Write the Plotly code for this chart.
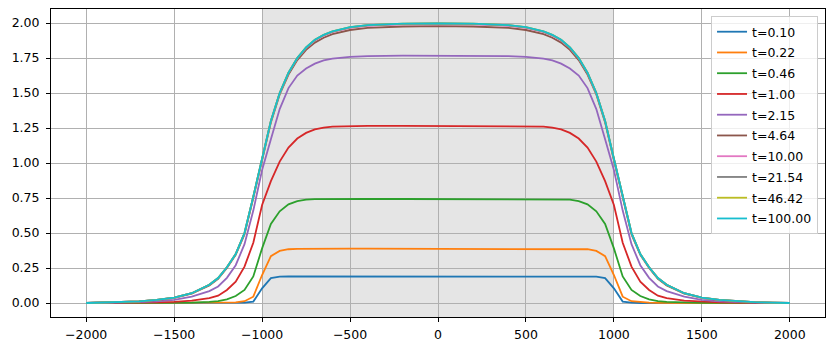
import plotly.graph_objects as go

x_vals = [-2000, -1900, -1800, -1700, -1600, -1500, -1400, -1300, -1250, -1200, -1150, -1100, -1050,
          -1000, -950, -900, -850, -800, -750, -700, -650, -600, -500, -400, -200, 0,
          200, 400, 500, 600, 650, 700, 750, 800, 850, 900, 950, 1000, 1050, 1100, 1150, 1200,
          1250, 1300, 1400, 1500, 1600, 1700, 1800, 1900, 2000]

t_labels = ["t=0.10", "t=0.22", "t=0.46", "t=1.00", "t=2.15", "t=4.64", "t=10.00", "t=21.54", "t=46.42", "t=100.00"]
colors = ["#1f77b4", "#ff7f0e", "#2ca02c", "#d62728", "#9467bd", "#8c564b", "#e377c2", "#7f7f7f", "#bcbd22", "#17becf"]

y_t010 = [0, 0, 0, 0, 0, 0, 0, 0, 0, 0, 0, 0.002, 0.01, 0.105, 0.178, 0.188, 0.19, 0.19, 0.19, 0.19, 0.19, 0.19, 0.19, 0.19, 0.19, 0.19,
          0.19, 0.19, 0.19, 0.19, 0.19, 0.19, 0.19, 0.19, 0.19, 0.188, 0.178, 0.105, 0.01, 0.002, 0, 0, 0, 0, 0, 0, 0, 0, 0, 0, 0]
y_t022 = [0, 0, 0, 0, 0, 0, 0, 0, 0.001, 0.002, 0.005, 0.013, 0.045, 0.2, 0.335, 0.372, 0.384, 0.387, 0.388, 0.388, 0.388, 0.388, 0.388, 0.388, 0.388, 0.388,
          0.388, 0.388, 0.388, 0.388, 0.388, 0.388, 0.388, 0.387, 0.384, 0.372, 0.335, 0.2, 0.045, 0.013, 0.005, 0.002, 0.001, 0, 0, 0, 0, 0, 0, 0, 0]
y_t046 = [0, 0, 0, 0, 0.0005, 0.001, 0.003, 0.008, 0.014, 0.026, 0.05, 0.093, 0.19, 0.39, 0.565, 0.655, 0.705, 0.728, 0.738, 0.742, 0.743, 0.743, 0.743, 0.743, 0.743, 0.743,
          0.743, 0.743, 0.743, 0.743, 0.743, 0.742, 0.738, 0.728, 0.705, 0.655, 0.565, 0.39, 0.19, 0.093, 0.05, 0.026, 0.014, 0.008, 0.003, 0.001, 0.0005, 0, 0, 0, 0]
y_t100 = [0, 0, 0.001, 0.002, 0.004, 0.008, 0.017, 0.035, 0.052, 0.093, 0.152, 0.26, 0.43, 0.70, 0.87, 1.01, 1.11, 1.175, 1.215, 1.24, 1.253, 1.26, 1.264, 1.265, 1.265, 1.265,
          1.265, 1.265, 1.264, 1.26, 1.253, 1.24, 1.215, 1.175, 1.11, 1.01, 0.87, 0.70, 0.43, 0.26, 0.152, 0.093, 0.052, 0.035, 0.017, 0.008, 0.004, 0.002, 0.001, 0, 0]
y_t215 = [0, 0.001, 0.003, 0.006, 0.012, 0.022, 0.045, 0.085, 0.118, 0.18, 0.27, 0.42, 0.66, 0.95, 1.17, 1.385, 1.535, 1.625, 1.675, 1.71, 1.733, 1.745, 1.758, 1.764, 1.767, 1.767,
          1.767, 1.764, 1.758, 1.745, 1.733, 1.71, 1.675, 1.625, 1.535, 1.385, 1.17, 0.95, 0.66, 0.42, 0.27, 0.18, 0.118, 0.085, 0.045, 0.022, 0.012, 0.006, 0.003, 0.001, 0]
y_t464 = [0, 0.002, 0.005, 0.011, 0.021, 0.036, 0.067, 0.126, 0.173, 0.25, 0.345, 0.49, 0.75, 1.02, 1.29, 1.49, 1.632, 1.735, 1.808, 1.86, 1.895, 1.92, 1.95, 1.965, 1.975, 1.978,
          1.975, 1.965, 1.95, 1.92, 1.895, 1.86, 1.808, 1.735, 1.632, 1.49, 1.29, 1.02, 0.75, 0.49, 0.345, 0.25, 0.173, 0.126, 0.067, 0.036, 0.021, 0.011, 0.005, 0.002, 0]
y_t1000 = [0, 0.003, 0.006, 0.012, 0.022, 0.038, 0.07, 0.13, 0.177, 0.254, 0.349, 0.498, 0.758, 1.028, 1.298, 1.498, 1.642, 1.747, 1.821, 1.875, 1.91, 1.935, 1.965, 1.98, 1.99, 1.993,
           1.99, 1.98, 1.965, 1.935, 1.91, 1.875, 1.821, 1.747, 1.642, 1.498, 1.298, 1.028, 0.758, 0.498, 0.349, 0.254, 0.177, 0.13, 0.07, 0.038, 0.022, 0.012, 0.006, 0.003, 0]
y_t2154 = [0, 0.003, 0.006, 0.012, 0.022, 0.038, 0.07, 0.13, 0.178, 0.255, 0.35, 0.5, 0.76, 1.03, 1.3, 1.5, 1.644, 1.749, 1.824, 1.879, 1.914, 1.939, 1.969, 1.984, 1.994, 1.997,
           1.994, 1.984, 1.969, 1.939, 1.914, 1.879, 1.824, 1.749, 1.644, 1.5, 1.3, 1.03, 0.76, 0.5, 0.35, 0.255, 0.178, 0.13, 0.07, 0.038, 0.022, 0.012, 0.006, 0.003, 0]
y_t4642 = [0, 0.003, 0.006, 0.012, 0.022, 0.038, 0.07, 0.13, 0.178, 0.255, 0.35, 0.5, 0.76, 1.03, 1.3, 1.5, 1.645, 1.75, 1.825, 1.88, 1.915, 1.94, 1.97, 1.985, 1.995, 1.998,
           1.995, 1.985, 1.97, 1.94, 1.915, 1.88, 1.825, 1.75, 1.645, 1.5, 1.3, 1.03, 0.76, 0.5, 0.35, 0.255, 0.178, 0.13, 0.07, 0.038, 0.022, 0.012, 0.006, 0.003, 0]
y_t10000 = [0, 0.003, 0.006, 0.012, 0.022, 0.038, 0.07, 0.13, 0.178, 0.255, 0.35, 0.5, 0.76, 1.03, 1.30, 1.50, 1.645, 1.75, 1.825, 1.88, 1.915, 1.94, 1.97, 1.985, 1.995, 1.998,
            1.995, 1.985, 1.97, 1.94, 1.915, 1.88, 1.825, 1.75, 1.645, 1.50, 1.30, 1.03, 0.76, 0.5, 0.35, 0.255, 0.178, 0.13, 0.07, 0.038, 0.022, 0.012, 0.006, 0.003, 0]

series = [y_t010, y_t022, y_t046, y_t100, y_t215, y_t464, y_t1000, y_t2154, y_t4642, y_t10000]
for s in series:
    assert len(s) == len(x_vals), len(s)

x_ticks = [-2000, -1500, -1000, -500, 0, 500, 1000, 1500, 2000]
y_ticks = [0.0, 0.25, 0.5, 0.75, 1.0, 1.25, 1.5, 1.75, 2.0]
span = [-1000, 1000]

fig = go.Figure()
for i, (lab, col, ys) in enumerate(zip(t_labels, colors, series)):
    fig.add_trace(go.Scatter(x=x_vals, y=ys, mode="lines", name=lab, legendgroup=f"g{i}",
                             line=dict(color=col, width=1.8)))

fig.add_shape(type="rect", xref="x", yref="paper", x0=span[0], x1=span[1], y0=0, y1=1,
              fillcolor="#e5e5e5", line=dict(width=0), layer="below")

axis_common = dict(showgrid=True, gridcolor="#b0b0b0", gridwidth=1, showline=True, linecolor="black",
                   linewidth=1, mirror=True, ticks="outside", ticklen=4, tickcolor="black",
                   zeroline=False, tickfont=dict(size=12.5, color="black"))
fig.update_xaxes(range=[-2200, 2200], tickvals=x_ticks, ticklabelstandoff=2, **axis_common)
fig.update_yaxes(range=[-0.1, 2.1], tickvals=y_ticks, tickformat=".2f", ticklabelstandoff=4, **axis_common)

fig.update_layout(
    width=835, height=351,
    margin=dict(l=51, r=10, t=9, b=34),
    paper_bgcolor="white", plot_bgcolor="white",
    font=dict(family="DejaVu Sans", size=12.5, color="black"),
    legend=dict(x=0.991, xanchor="right", y=0.977, yanchor="top",
                bgcolor="rgba(255,255,255,0.8)", bordercolor="#cccccc", borderwidth=1,
                traceorder="grouped", tracegroupgap=1.5,
                font=dict(size=12.5, color="black")),
    showlegend=True,
)

fig.write_html("out.html")
